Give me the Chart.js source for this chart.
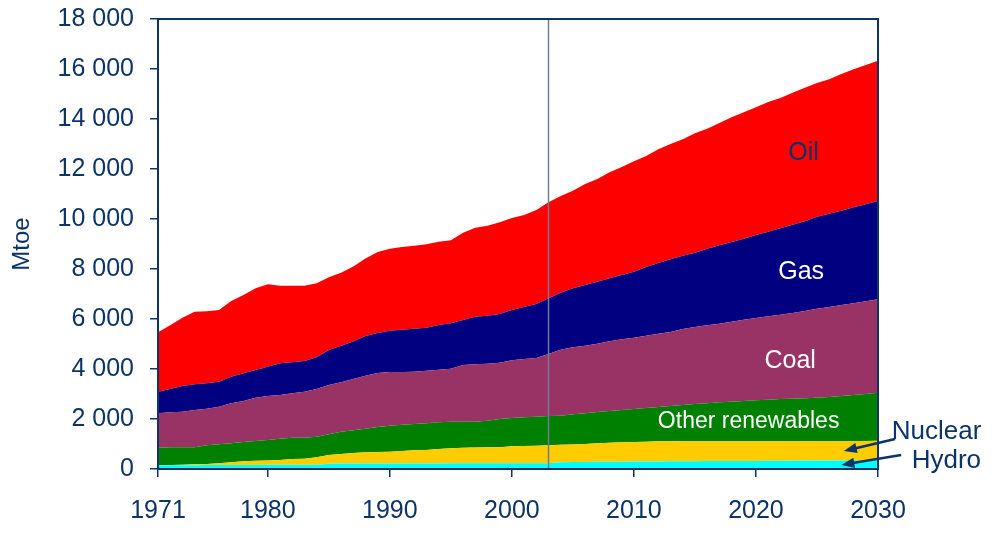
<!DOCTYPE html>
<html>
<head>
<meta charset="utf-8">
<script src="https://cdn.jsdelivr.net/npm/chart.js@4.4.1/dist/chart.umd.min.js"></script>
<style>
  html, body { margin: 0; padding: 0; background: #fff; }
  #wrap { width: 1000px; height: 554px; }
</style>
</head>
<body>
<div id="wrap"><canvas id="chart"></canvas></div>
<script>
/* ─── Data (Mtoe, by fuel, stacked bottom to top) ─────────────────────────── */
const years = [
  1971,1972,1973,1974,1975,1976,1977,1978,1979,1980,
  1981,1982,1983,1984,1985,1986,1987,1988,1989,1990,
  1991,1992,1993,1994,1995,1996,1997,1998,1999,2000,
  2001,2002,2003,2004,2005,2006,2007,2008,2009,2010,
  2011,2012,2013,2014,2015,2016,2017,2018,2019,2020,
  2021,2022,2023,2024,2025,2026,2027,2028,2029,2030,
];
const hydro = [
  150,151,153,155,157,158,160,162,164,166,
  168,170,172,175,215,217,218,219,220,221,
  222,223,224,225,226,227,228,229,230,231,
  232,233,235,275,280,284,288,292,295,298,
  301,304,307,310,313,316,318,320,322,324,
  327,330,333,336,339,342,345,348,351,355,
];
const nuclear = [
  10,14,20,32,43,69,107,145,169,175,
  192,228,240,292,345,383,425,448,460,472,
  498,524,536,575,601,626,628,640,645,676,
  688,700,712,700,705,716,739,761,772,782,
  792,803,808,810,808,806,805,803,801,799,
  796,793,790,787,784,781,778,776,774,778,
];
const renewables = [
  693,702,694,680,747,760,760,773,787,819,
  853,855,841,826,827,893,907,946,1000,1040,
  1053,1053,1067,1067,1066,1040,1037,1064,1125,1133,
  1147,1160,1173,1158,1202,1227,1253,1267,1293,1320,
  1347,1373,1405,1440,1479,1505,1544,1570,1597,1624,
  1650,1677,1690,1704,1730,1757,1797,1836,1875,1920,
];
const coal = [
  1374,1400,1426,1493,1466,1506,1600,1640,1733,1760,
  1747,1774,1840,1907,1973,1974,2050,2120,2160,2147,
  2107,2093,2106,2106,2120,2267,2294,2280,2253,2307,
  2333,2347,2480,2637,2680,2706,2733,2787,2827,2853,
  2893,2933,2960,3040,3080,3120,3146,3200,3253,3293,
  3334,3373,3427,3493,3560,3600,3640,3667,3707,3734,
];
const gas = [
  866,933,1027,1027,1014,1000,1066,1107,1107,1173,
  1267,1240,1227,1267,1400,1466,1500,1587,1600,1653,
  1693,1720,1720,1787,1814,1800,1906,1920,1947,2013,
  2080,2160,2227,2280,2360,2427,2480,2520,2573,2640,
  2747,2827,2907,2933,2973,3066,3134,3187,3240,3320,
  3386,3454,3533,3587,3680,3733,3773,3840,3880,3933,
];
const oil = [
  2374,2547,2733,2906,2880,2867,3027,3133,3267,3294,
  3106,3066,3013,2960,2907,2920,3000,3100,3240,3280,
  3307,3320,3334,3333,3323,3493,3560,3600,3667,3680,
  3680,3760,3840,3870,3906,4040,4107,4240,4320,4414,
  4440,4547,4613,4654,4774,4800,4893,4987,5054,5107,
  5187,5213,5280,5346,5347,5374,5467,5520,5573,5613,
];
const xTicks = [1971, 1980, 1990, 2000, 2010, 2020, 2030];
const projectionStart = 2003;

/* ─── Style ──────────────────────────────────────────────────────────────── */
const NAVY = '#0d3468';
const FONT = '"Liberation Sans", Arial, sans-serif';

const series = [
  { label: 'Hydro',            data: hydro,      color: '#00ffff' },
  { label: 'Nuclear',          data: nuclear,    color: '#ffcc00' },
  { label: 'Other renewables', data: renewables, color: '#008000' },
  { label: 'Coal',             data: coal,       color: '#993366' },
  { label: 'Gas',              data: gas,        color: '#000080' },
  { label: 'Oil',              data: oil,        color: '#ff0000' },
];

// labels placed in data space: [text, year, value, colour, size]
const areaLabels = [
  ['Oil',              2023.9, 12640, NAVY,   25],
  ['Gas',              2023.7,  7880, '#fff', 25],
  ['Coal',             2022.8,  4320, '#fff', 25],
  ['Other renewables', 2019.4,  1880, '#fff', 23],
  ['Nuclear',          2034.8,  1480, NAVY,   26],
  ['Hydro',            2035.6,   320, NAVY,   26],
];
// arrows: [fromYear, fromValue, toYear, toValue]
const arrows = [
  [2031.4, 1200, 2027.2, 720],
  [2031.9,  560, 2027.0, 160],
];

/* ─── Plugins ────────────────────────────────────────────────────────────── */
const overlay = {
  id: 'overlay',
  afterDatasetsDraw(chart) {
    const { ctx, chartArea: a, scales: { x } } = chart;
    ctx.save();
    // projection divider
    const px = x.getPixelForValue(projectionStart);
    ctx.strokeStyle = '#6f7c93';
    ctx.lineWidth = 1.5;
    ctx.beginPath(); ctx.moveTo(px, a.top); ctx.lineTo(px, a.bottom); ctx.stroke();
    // frame
    ctx.strokeStyle = NAVY;
    ctx.lineWidth = 2;
    ctx.strokeRect(a.left, a.top, a.right - a.left, a.bottom - a.top);
    ctx.restore();
  },
  afterDraw(chart) {
    const { ctx, scales: { x, y } } = chart;
    ctx.save();
    ctx.textBaseline = 'middle';
    ctx.textAlign = 'center';
    areaLabels.forEach(([t, yr, v, c, s]) => {
      ctx.font = s + 'px ' + FONT;
      ctx.fillStyle = c;
      ctx.fillText(t, x.getPixelForValue(yr), y.getPixelForValue(v));
    });
    ctx.strokeStyle = NAVY; ctx.fillStyle = NAVY; ctx.lineWidth = 2.5;
    arrows.forEach(([x0, v0, x1, v1]) => {
      const ax = x.getPixelForValue(x0), ay = y.getPixelForValue(v0);
      const bx = x.getPixelForValue(x1), by = y.getPixelForValue(v1);
      const ang = Math.atan2(by - ay, bx - ax);
      ctx.beginPath(); ctx.moveTo(ax, ay);
      ctx.lineTo(bx - 10 * Math.cos(ang), by - 10 * Math.sin(ang)); ctx.stroke();
      ctx.beginPath();
      ctx.moveTo(bx, by);
      ctx.lineTo(bx - 14 * Math.cos(ang - 0.38), by - 14 * Math.sin(ang - 0.38));
      ctx.lineTo(bx - 14 * Math.cos(ang + 0.38), by - 14 * Math.sin(ang + 0.38));
      ctx.closePath(); ctx.fill();
    });
    ctx.restore();
  },
};

/* ─── Chart ──────────────────────────────────────────────────────────────── */
new Chart(document.getElementById('chart'), {
  type: 'line',
  data: {
    datasets: series.map((s, i) => ({
      label: s.label,
      data: years.map((yr, j) => ({ x: yr, y: s.data[j] })),
      backgroundColor: s.color,
      borderColor: 'rgba(0,0,0,0)',
      borderWidth: 0,
      pointRadius: 0,
      tension: 0,
      fill: i === 0 ? 'origin' : '-1',
    })),
  },
  options: {
    responsive: true, maintainAspectRatio: false, animation: false,
    layout: { padding: { top: 19, right: 122, left: 0, bottom: 0 } },
    plugins: { legend: { display: false }, tooltip: { enabled: false } },
    scales: {
      x: {
        type: 'linear', min: 1971, max: 2030,
        afterBuildTicks: s => { s.ticks = xTicks.map(v => ({ value: v })); },
        afterFit: s => { s.height = 85; s.paddingLeft = 0; s.paddingRight = 0; },
        grid: { drawOnChartArea: false, color: NAVY, lineWidth: 1.5, tickLength: 8 },
        border: { color: NAVY, width: 2 },
        ticks: {
          color: NAVY, padding: 19, maxRotation: 0, autoSkip: false,
          font: { family: FONT, size: 25 },
          callback: v => String(v),
        },
      },
      y: {
        stacked: true, min: 0, max: 18000,
        afterFit: s => { s.width = 158; s.paddingTop = 0; s.paddingBottom = 0; },
        grid: { drawOnChartArea: false, color: NAVY, lineWidth: 1.5, tickLength: 8 },
        border: { color: NAVY, width: 2 },
        ticks: {
          stepSize: 2000, color: NAVY, padding: 16,
          font: { family: FONT, size: 25 },
          callback: v => String(v).replace(/\B(?=(\d{3})+(?!\d))/g, ' '),
        },
        title: {
          display: true, text: 'Mtoe', color: NAVY,
          font: { family: FONT, size: 24 }, padding: { top: 8 },
        },
      },
    },
  },
  plugins: [overlay],
});
</script>
</body>
</html>
